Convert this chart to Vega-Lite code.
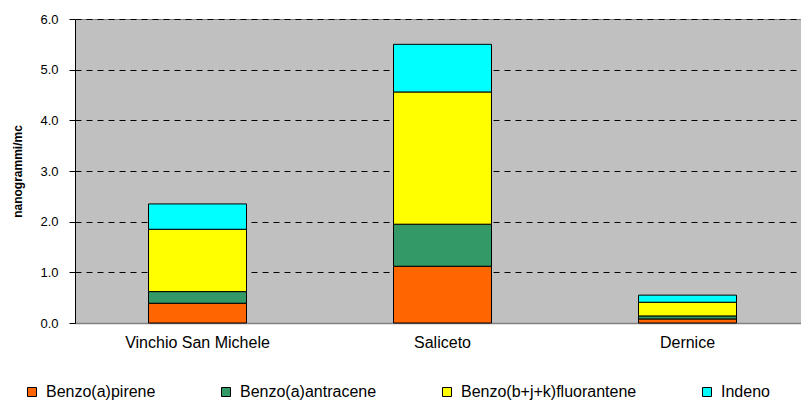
{
  "$schema": "https://vega.github.io/schema/vega-lite/v6.json",
  "width": 735,
  "height": 304,
  "autosize": {"type": "none"},
  "padding": {"left": 75, "top": 19, "right": 0, "bottom": 78},
  "background": "#ffffff",
  "config": {
    "font": "Liberation Sans",
    "view": {"fill": "#C0C0C0", "stroke": "#808080", "strokeWidth": 1}
  },
  "data": {
    "values": [
      {"site": "Vinchio San Michele", "compound": "Benzo(a)pirene", "order": 1, "value": 0.39},
      {"site": "Vinchio San Michele", "compound": "Benzo(a)antracene", "order": 2, "value": 0.23},
      {"site": "Vinchio San Michele", "compound": "Benzo(b+j+k)fluorantene", "order": 3, "value": 1.23},
      {"site": "Vinchio San Michele", "compound": "Indeno", "order": 4, "value": 0.50},
      {"site": "Saliceto", "compound": "Benzo(a)pirene", "order": 1, "value": 1.12},
      {"site": "Saliceto", "compound": "Benzo(a)antracene", "order": 2, "value": 0.83},
      {"site": "Saliceto", "compound": "Benzo(b+j+k)fluorantene", "order": 3, "value": 2.61},
      {"site": "Saliceto", "compound": "Indeno", "order": 4, "value": 0.94},
      {"site": "Dernice", "compound": "Benzo(a)pirene", "order": 1, "value": 0.08},
      {"site": "Dernice", "compound": "Benzo(a)antracene", "order": 2, "value": 0.06},
      {"site": "Dernice", "compound": "Benzo(b+j+k)fluorantene", "order": 3, "value": 0.27},
      {"site": "Dernice", "compound": "Indeno", "order": 4, "value": 0.14}
    ]
  },
  "mark": {"type": "bar", "stroke": "#000000", "strokeWidth": 1},
  "encoding": {
    "x": {
      "field": "site",
      "type": "nominal",
      "sort": ["Vinchio San Michele", "Saliceto", "Dernice"],
      "scale": {"paddingInner": 0.6, "paddingOuter": 0.3},
      "axis": {
        "title": null,
        "labelAngle": 0,
        "labelFontSize": 16,
        "labelColor": "#000000",
        "ticks": false,
        "labelPadding": 11,
        "domainColor": "#808080",
        "domainWidth": 1.5,
        "grid": false
      }
    },
    "y": {
      "field": "value",
      "type": "quantitative",
      "stack": "zero",
      "scale": {"domain": [0, 6], "nice": false},
      "axis": {
        "title": "nanogrammi/mc",
        "titleFontSize": 12,
        "titleFontWeight": "bold",
        "titleColor": "#000000",
        "titleAngle": -90,
        "titleX": -58,
        "titleY": 152,
        "titleAlign": "center",
        "titleBaseline": "middle",
        "values": [0, 1, 2, 3, 4, 5, 6],
        "format": ".1f",
        "labelFontSize": 13,
        "labelColor": "#000000",
        "labelPadding": 11,
        "tickSize": 6,
        "tickColor": "#000000",
        "domainColor": "#000000",
        "grid": true,
        "gridColor": "#000000",
        "gridDash": [6, 5],
        "gridWidth": 1
      }
    },
    "color": {
      "field": "compound",
      "type": "nominal",
      "scale": {
        "domain": ["Benzo(a)pirene", "Benzo(a)antracene", "Benzo(b+j+k)fluorantene", "Indeno"],
        "range": ["#FF6600", "#339966", "#FFFF00", "#00FFFF"]
      },
      "legend": {
        "title": null,
        "orient": "none",
        "direction": "horizontal",
        "legendX": -51,
        "legendY": 365,
        "padding": 0,
        "symbolType": "square",
        "symbolSize": 81,
        "symbolStrokeColor": "#000000",
        "symbolStrokeWidth": 1,
        "labelFontSize": 16,
        "labelColor": "#000000",
        "labelOffset": 6,
        "labelLimit": 400,
        "columnPadding": 62
      }
    },
    "order": {"field": "order", "type": "quantitative", "sort": "ascending"}
  }
}
